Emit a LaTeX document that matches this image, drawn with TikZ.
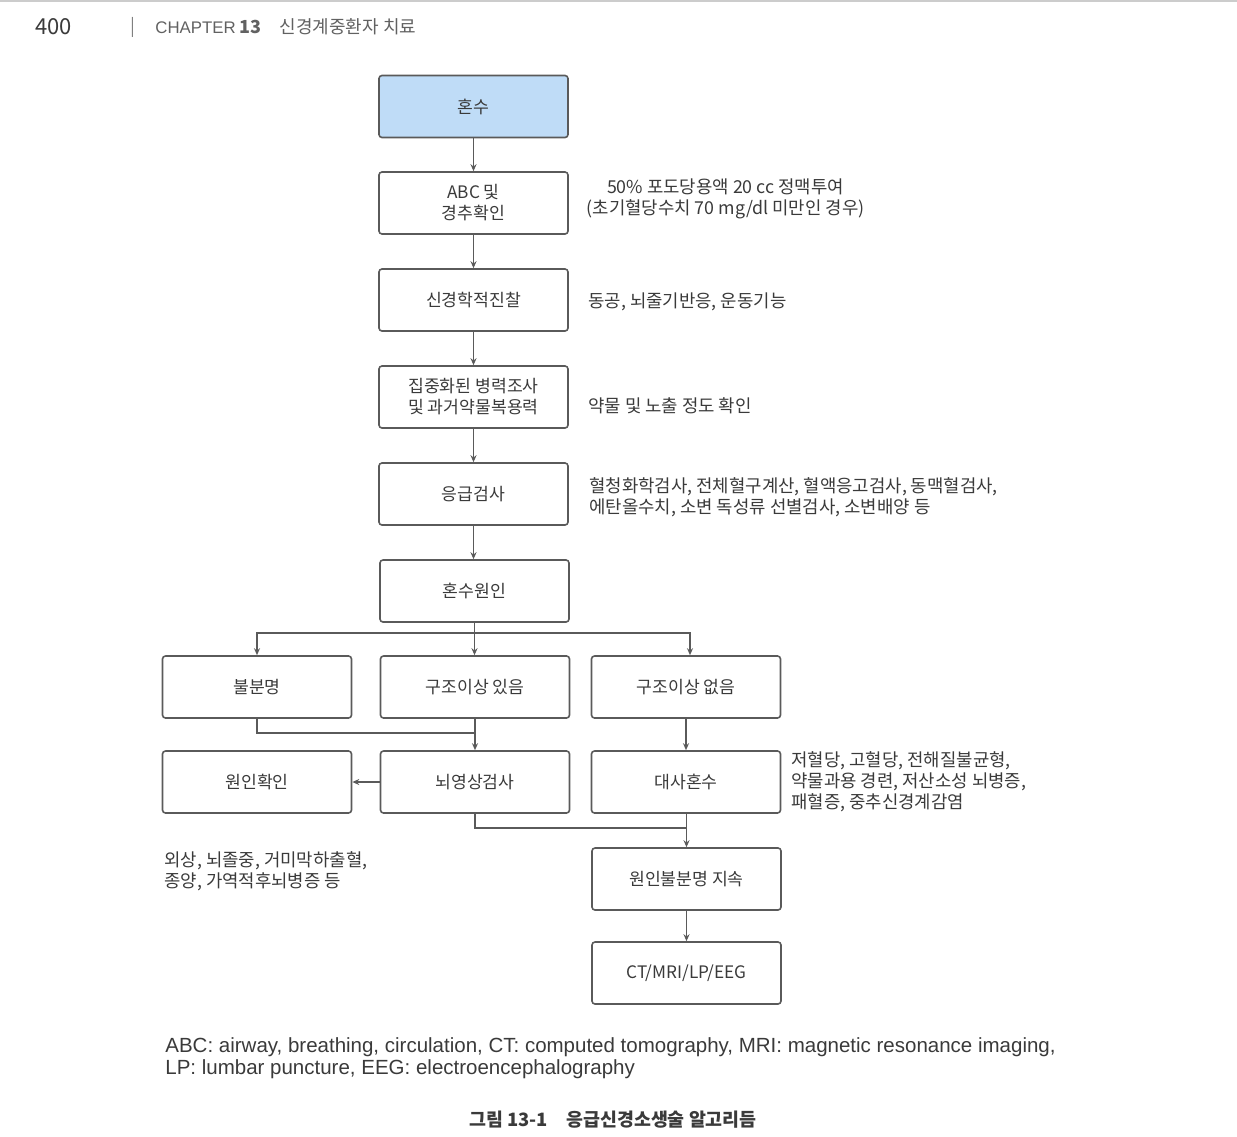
\documentclass[tikz,border=0pt]{standalone}
\usepackage{fontspec}
\setmainfont{Noto Sans CJK KR}
\newfontfamily\latinfont{Liberation Sans}
\usetikzlibrary{arrows.meta}
\definecolor{ink}{HTML}{3A3A3A}
\definecolor{edge}{HTML}{5A5A5A}
\definecolor{comablue}{HTML}{BFDCF7}
\begin{document}
\begin{tikzpicture}[x=0.5pt,y=-0.5pt,
    box/.style={draw=edge,line width=0.8pt,rounded corners=1.5pt,minimum width=94.5pt,
      minimum height=31pt,align=center,font=\fontsize{8.6}{10.5}\selectfont,text=ink,inner sep=0pt},
    note/.style={anchor=west,align=left,font=\fontsize{8.9}{10.6}\selectfont,text=ink,inner sep=0pt},
    flow/.style={draw=edge,line width=0.7pt,-{Stealth[length=3.5pt,width=3pt]}},
    link/.style={draw=edge,line width=0.7pt}]
  \useasboundingbox (0,0) rectangle (1237,1136);
  \draw[gray!40,line width=0.6pt] (0,1) -- (1237,1);
  % page header
  \node[anchor=west,text=ink,inner sep=0pt,font=\fontsize{11}{13}\selectfont] (page) at (35,27) {400};
  \node[anchor=west,text=gray,inner sep=0pt,font=\fontsize{9}{11}\selectfont] (bar) at (130,27) {|};
  \node[anchor=west,text=ink!80,inner sep=0pt,font=\fontsize{9}{11}\selectfont] (chap) at (155,27)
    {{\latinfont\fontsize{8.4}{11}\selectfont CHAPTER} \textbf{13}\quad 신경계중환자 치료};
  % boxes
  \node[box,fill=comablue] (coma) at (473.5,106.5) {혼수};
  \node[box] (abc) at (473.5,203) {ABC 및\\경추확인};
  \node[box] (neuro) at (473.5,300) {신경학적진찰};
  \node[box] (hist) at (473.5,397) {집중화된 병력조사\\및 과거약물복용력};
  \node[box] (lab) at (473.5,494) {응급검사};
  \node[box] (cause) at (474.5,591) {혼수원인};
  \node[box] (unk) at (257,687) {불분명};
  \node[box] (struct) at (475,687) {구조이상 있음};
  \node[box] (nostruct) at (686,687) {구조이상 없음};
  \node[box] (found) at (257,782) {원인확인};
  \node[box] (img) at (475,782) {뇌영상검사};
  \node[box] (meta) at (686,782) {대사혼수};
  \node[box] (persist) at (686.5,879) {원인불분명 지속};
  \node[box] (ct) at (686.5,973) {CT/MRI/LP/EEG};
  % side notes
  \node[note,anchor=center,align=center] (glu) at (725.5,199)
    {50\% 포도당용액 20 cc 정맥투여\\(초기혈당수치 70 mg/dl 미만인 경우)};
  \node[note] (pupil) at (588,302) {동공, 뇌줄기반응, 운동기능};
  \node[note] (drug) at (588,406) {약물 및 노출 정도 확인};
  \node[note] (tests) at (589,497) {혈청화학검사, 전체혈구계산, 혈액응고검사, 동맥혈검사,\\에탄올수치, 소변 독성류 선별검사, 소변배양 등};
  \node[note] (metacause) at (791,782) {저혈당, 고혈당, 전해질불균형,\\약물과용 경련, 저산소성 뇌병증,\\패혈증, 중추신경계감염};
  \node[note] (lesion) at (164,871) {외상, 뇌졸중, 거미막하출혈,\\종양, 가역적후뇌병증 등};
  % connectors
  \draw[flow] (coma) -- (abc);
  \draw[flow] (abc) -- (neuro);
  \draw[flow] (neuro) -- (hist);
  \draw[flow] (hist) -- (lab);
  \draw[flow] (lab) -- (lab.south |- cause.north);
  \coordinate (split) at (474.5,633);
  \draw[link] (cause) -- (split);
  \draw[flow] (split) -| (unk);
  \draw[flow] (split) -- (struct.north -| split);
  \draw[flow] (split) -| (nostruct.north -| 690,0);
  \coordinate (join1) at (475,733);
  \draw[link] (unk) |- (join1);
  \draw[flow] (struct) -- (img);
  \draw[flow] (nostruct) -- (meta);
  \draw[flow] (img) -- (found);
  \coordinate (join2) at (686.5,828);
  \draw[link] (img) |- (join2);
  \draw[flow] (meta.south -| join2) -- (persist);
  \draw[flow] (persist) -- (ct);
  % footnote and caption
  \node[anchor=west,align=left,text=ink,inner sep=0pt,font=\latinfont\fontsize{10.25}{11}\selectfont] (abbr) at (165,1058)
    {ABC: airway, breathing, circulation, CT: computed tomography, MRI: magnetic resonance imaging,\\LP: lumbar puncture, EEG: electroencephalography};
  \node[text=ink,inner sep=0pt,font=\bfseries\fontsize{9.2}{11}\selectfont] (caption) at (613,1120)
    {그림 13-1\quad 응급신경소생술 알고리듬};
\end{tikzpicture}
\end{document}
